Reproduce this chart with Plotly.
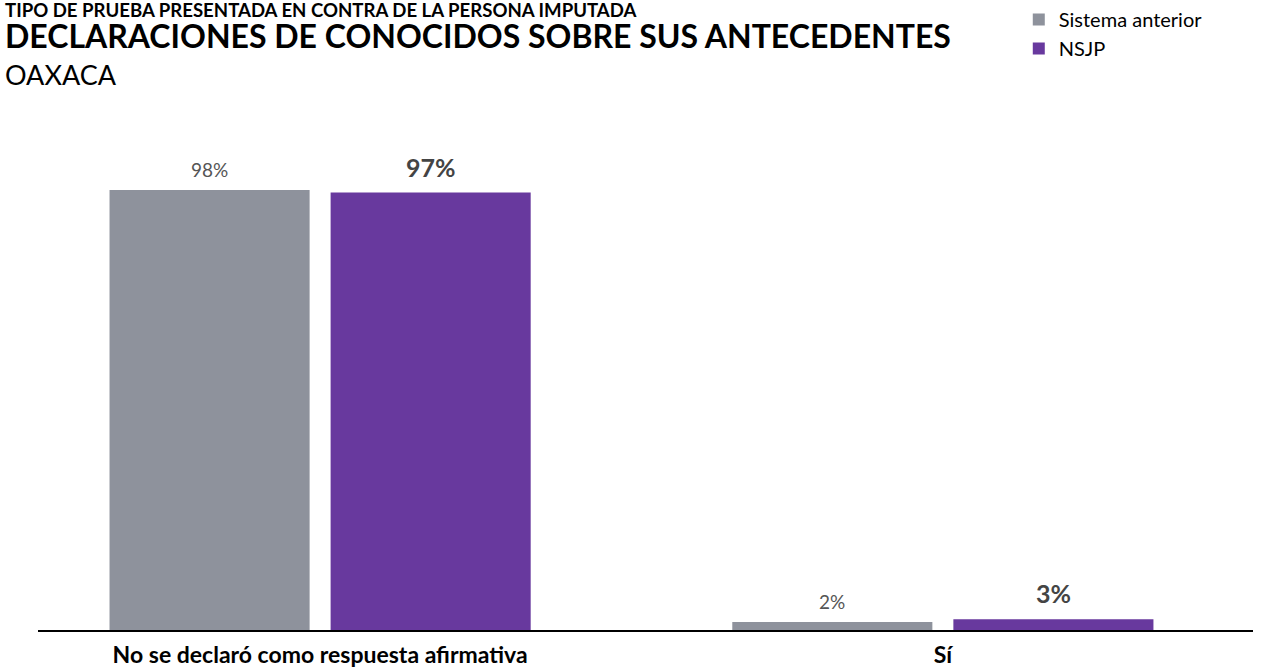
import plotly.graph_objects as go

categories = ["No se declaró como respuesta afirmativa", "Sí"]
series_names = ["Sistema anterior", "NSJP"]
sistema_anterior = [98.2, 1.8]
nsjp = [97.6, 2.4]
sistema_labels = ["98%", "2%"]
nsjp_labels = ["97%", "3%"]

colors = ["#8e929c", "#68399e"]
BARGAP = 0.29
GROUPGAP = 0.095
TOP = 137

fig = go.Figure()
for name, vals, col in zip(series_names, [sistema_anterior, nsjp], colors):
    fig.add_trace(go.Bar(x=categories, y=vals, name=name, marker=dict(color=col, line=dict(width=0)),
                         hoverinfo="skip"))

# value labels above bars
offs = [-(1 - BARGAP) / 4, (1 - BARGAP) / 4]
label_sets = [sistema_labels, nsjp_labels]
val_sets = [sistema_anterior, nsjp]
fonts = [dict(family="Lato", size=19, color="#555555"), dict(family="Lato", size=25, color="#444444")]
shifts = [7, 9]
for k in range(2):
    for j in range(len(categories)):
        txt = label_sets[k][j]
        if k == 1:
            txt = "<b>" + txt + "</b>"
        fig.add_annotation(x=j + offs[k], y=val_sets[k][j], xref="x", yref="y", text=txt,
                           showarrow=False, yanchor="bottom", yshift=shifts[k], font=fonts[k])

# titles (centre y in px from top of the page)
titles = [
    ("<b>TIPO DE PRUEBA PRESENTADA EN CONTRA DE LA PERSONA IMPUTADA</b>", 18.6, 10),
    ("<b>DECLARACIONES DE CONOCIDOS SOBRE SUS ANTECEDENTES</b>", 32, 35),
    ("OAXACA", 27, 74),
]
for txt, sz, cy in titles:
    fig.add_annotation(xref="paper", yref="paper", x=0, y=1, xshift=-35, yshift=TOP - cy, text=txt,
                       showarrow=False, xanchor="left", yanchor="middle",
                       font=dict(family="Lato", size=sz, color="#000"))

fig.update_layout(
    width=1264, height=669,
    margin=dict(l=38, r=11, t=TOP, b=39, autoexpand=False),
    paper_bgcolor="white", plot_bgcolor="white",
    barmode="group", bargap=BARGAP, bargroupgap=GROUPGAP,
    font=dict(family="Lato"),
    showlegend=True,
    legend=dict(xref="container", yref="container", x=0.806, y=1.0, xanchor="left", yanchor="top",
                font=dict(family="Lato", size=20, color="#000"), tracegroupgap=0,
                bgcolor="rgba(0,0,0,0)", itemclick=False),
    xaxis=dict(type="category", range=[-0.453, 1.498], showline=True, linecolor="#000", linewidth=1.5,
               ticks="outside", ticklen=4, tickcolor="rgba(0,0,0,0)", showgrid=False,
               tickfont=dict(family="Lato", size=23, color="#000"),
               tickvals=categories, ticktext=["<b>" + c + "</b>" for c in categories]),
    yaxis=dict(range=[0, 110], visible=False, showgrid=False, zeroline=False),
)

fig.write_html("out.html", config={"displayModeBar": False},
               post_script="document.body.style.margin='0';document.body.style.overflow='hidden';")
